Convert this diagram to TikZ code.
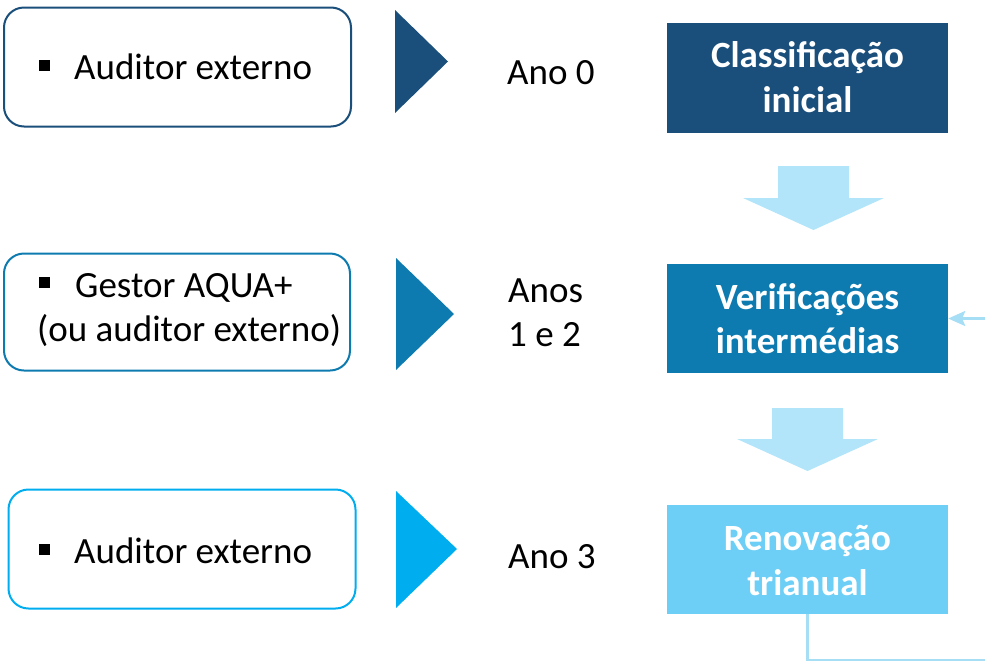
\documentclass[tikz,border=0pt]{standalone}
\usepackage{fontspec}
\setmainfont{Carlito}
\usetikzlibrary{arrows.meta}
\definecolor{cdark}{HTML}{1B4F7B}
\definecolor{cmid}{HTML}{0E7BB0}
\definecolor{clight}{HTML}{00AEEF}
\definecolor{cpale}{HTML}{6DCFF6}
\definecolor{carrow}{HTML}{B2E5F9}
\definecolor{cline}{HTML}{A6DEF5}
\tikzset{
  leftbox/.style={draw, line width=2pt, rounded corners=20pt, fill=white, inner sep=0pt},
  rightbox/.style={inner sep=0pt, minimum width=281pt, minimum height=109pt},
  txt/.style={inner sep=0pt, font=\fontsize{37}{45}\selectfont},
  wtxt/.style={txt, text=white, font=\fontsize{37}{45}\selectfont\bfseries, anchor=base},
  tri/.style={draw=none},
  blockarrow/.style={fill=carrow, draw=none},
  fb/.style={draw=cline, line width=2.5pt}
}
\newcommand{\blt}{\raisebox{8pt}{\rule{11pt}{11pt}}}
\begin{document}
\begin{tikzpicture}[x=1pt,y=-1pt]
\useasboundingbox (0,0) rectangle (985,662);

% left boxes
\node[leftbox, draw=cdark, minimum width=347pt, minimum height=119pt] (l1) at (177.5,67) {};
\node[leftbox, draw=cmid, minimum width=346pt, minimum height=117pt] (l2) at (177,312) {};
\node[leftbox, draw=clight, minimum width=347pt, minimum height=119pt] (l3) at (182,549) {};

\node[txt, anchor=base west] (b1) at (39,79) {\blt};
\node[txt, anchor=base west] (t1) at (74,79) {Auditor externo};
\node[txt, anchor=base west] (b2) at (39,296) {\blt};
\node[txt, anchor=base west] (t2a) at (75,297) {Gestor AQUA+};
\node[txt, anchor=base west] (t2b) at (37,341) {(ou auditor externo)};
\node[txt, anchor=base west] (b3) at (39,563) {\blt};
\node[txt, anchor=base west] (t3) at (74,563) {Auditor externo};

% triangles
\fill[cdark] (395,10) -- (448,61.5) -- (395,113) -- cycle;
\fill[cmid] (396,258) -- (454,314) -- (396,370) -- cycle;
\fill[clight] (396,491) -- (457,549) -- (396,608) -- cycle;

% year labels
\node[txt, anchor=base west] (y0) at (507,84) {Ano 0};
\node[txt, anchor=base west] (y1a) at (508,302) {Anos};
\node[txt, anchor=base west] (y1b) at (508,346) {1 e 2};
\node[txt, anchor=base west] (y3) at (508,568) {Ano 3};

% right boxes
\node[rightbox, fill=cdark, minimum height=110pt] (r1) at (807.5,78) {};
\node[rightbox, fill=cmid] (r2) at (807.5,318.5) {};
\node[rightbox, fill=cpale] (r3) at (807.5,559.5) {};

\node[wtxt] (r1a) at (807.5,67) {Classificação};
\node[wtxt] (r1b) at (807.5,112) {inicial};
\node[wtxt] (r2a) at (807.5,309) {Verificações};
\node[wtxt] (r2b) at (807.5,353) {intermédias};
\node[wtxt] (r3a) at (807.5,550) {Renovação};
\node[wtxt] (r3b) at (807.5,595) {trianual};

% block arrows
\fill[blockarrow] (778,166) -- (849,166) -- (849,198) -- (884,198) -- (813.5,230) -- (743,198) -- (778,198) -- cycle;
\fill[blockarrow] (772,408) -- (843,408) -- (843,439) -- (878,439) -- (807.5,471) -- (737,439) -- (772,439) -- cycle;

% feedback connector
\coordinate (c1) at (807.5,660);
\coordinate (c2) at (988,660);
\coordinate (c3) at (988,318.5);
\draw[fb, -{Stealth[length=17pt,width=15pt,inset=3pt]}] (r3.south) -- (c1) -- (c2) -- (c3) -- (r2.east);
\end{tikzpicture}
\end{document}
